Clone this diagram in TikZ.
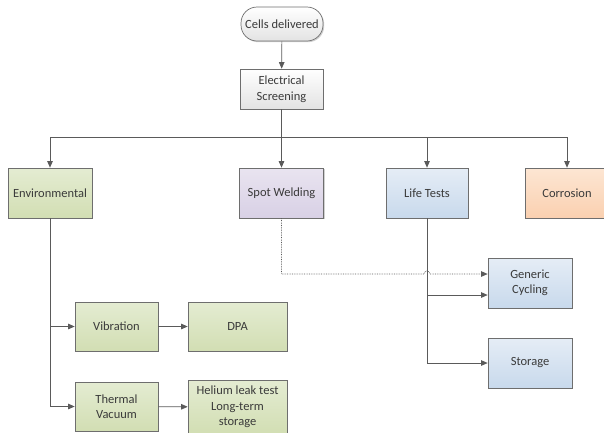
\documentclass[tikz,border=0pt]{standalone}
\usepackage{fontspec}
\setmainfont{Carlito}
\usetikzlibrary{arrows.meta,shadows,calc}
\definecolor{linec}{HTML}{5A5A5A}
\definecolor{txtc}{HTML}{3A3A3A}
\definecolor{bordc}{HTML}{6E6E6E}
\definecolor{gA}{HTML}{E4ECD2}\definecolor{gB}{HTML}{D2DEB3}
\definecolor{pA}{HTML}{E9E4F0}\definecolor{pB}{HTML}{D8D0E5}
\definecolor{bA}{HTML}{E5EDF6}\definecolor{bB}{HTML}{C8D9EC}
\definecolor{oA}{HTML}{FDE6D3}\definecolor{oB}{HTML}{FAD0B0}
\tikzset{
  box/.style={draw=bordc, line width=0.7pt, text=txtc, align=center, inner sep=1pt,
    font=\fontsize{12.5}{15.5}\selectfont,
    drop shadow={shadow xshift=1.2pt, shadow yshift=-1.2pt, fill=black, opacity=0.18}},
  graybox/.style={box, top color=white, bottom color=black!11},
  greenbox/.style={box, top color=gA, bottom color=gB},
  purplebox/.style={box, top color=pA, bottom color=pB},
  bluebox/.style={box, top color=bA, bottom color=bB},
  orangebox/.style={box, top color=oA, bottom color=oB},
  arr/.style={draw=linec, line width=0.7pt, -{Triangle[length=6.5pt,width=5.5pt]}},
  plainline/.style={draw=linec, line width=0.7pt},
  dotarr/.style={draw=linec, line width=0.7pt, densely dotted, -{Triangle[length=6.5pt,width=5.5pt]}}
}
\begin{document}
\begin{tikzpicture}[x=1pt,y=-1pt]
\useasboundingbox (0,0) rectangle (604,432);
\node[graybox, rounded corners=16pt, minimum width=82pt, minimum height=34pt] (cells) at (282,24) {Cells delivered};
\node[graybox, minimum width=83pt, minimum height=40pt] (elec) at (281.5,89) {Electrical\\Screening};
\node[greenbox, minimum width=84pt, minimum height=50pt] (env) at (50,193) {Environmental};
\node[purplebox, minimum width=84pt, minimum height=50pt] (spot) at (281.5,193) {Spot Welding};
\node[bluebox, minimum width=82pt, minimum height=50pt] (life) at (427,193) {Life Tests};
\node[orangebox, minimum width=84pt, minimum height=50pt] (corr) at (567,193) {Corrosion};
\node[greenbox, minimum width=83pt, minimum height=49pt] (vib) at (116.5,326.5) {Vibration};
\node[greenbox, minimum width=99pt, minimum height=49pt] (dpa) at (237.5,326.5) {DPA};
\node[greenbox, minimum width=83pt, minimum height=49pt] (therm) at (116.5,406.5) {Thermal\\Vacuum};
\node[greenbox, minimum width=99pt, minimum height=54pt] (helium) at (237.5,407) {Helium leak test\\Long-term\\storage};
\node[bluebox, minimum width=84pt, minimum height=50pt] (gen) at (530,283) {Generic\\Cycling};
\node[bluebox, minimum width=84pt, minimum height=50pt] (stor) at (530,363) {Storage};

\coordinate (bus) at (281.5,137);
\draw[arr] (cells) -- (elec);
\draw[plainline] (elec) -- (bus);
\draw[arr] (bus) -| (env);
\draw[arr] (bus) -- (spot);
\draw[arr] (bus) -| (life);
\draw[arr] (bus) -| (corr);
\draw[arr] (env.south) |- (vib);
\draw[arr] (env.south) |- (therm);
\draw[arr] (vib) -- (dpa);
\draw[arr] (therm) -- (helium);
\coordinate (gentop) at ($(gen.west)+(0,9pt)$);
\coordinate (genlow) at ($(gen.west)+(0,-12pt)$);
\draw[arr] (life.south) |- (genlow);
\draw[arr] (life.south) |- (stor);
\coordinate (jA) at ($(life.south |- gentop)+(-3pt,0)$);
\draw[dotarr] (spot.south) |- (jA) arc[start angle=180, end angle=0, radius=3pt] -- (gentop);
\end{tikzpicture}
\end{document}
